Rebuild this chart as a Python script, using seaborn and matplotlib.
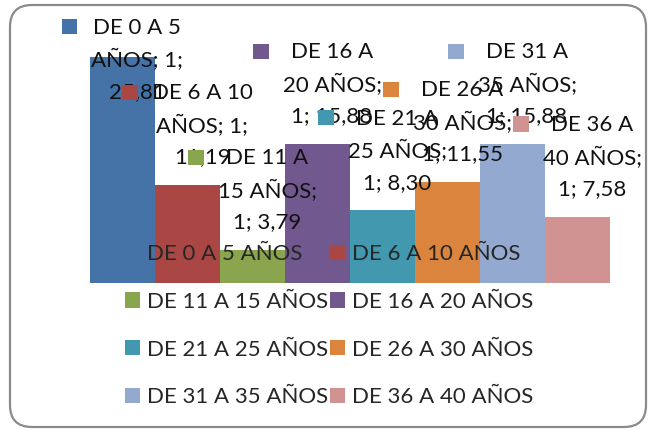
import textwrap
import matplotlib
matplotlib.use("Agg")
import matplotlib.pyplot as plt
import seaborn as sns
from matplotlib.patches import Patch, Rectangle, FancyBboxPatch
from matplotlib.offsetbox import TextArea, DrawingArea, HPacker, AnnotationBbox
from matplotlib.transforms import IdentityTransform

# data
groups = ["DE 0 A 5 AÑOS", "DE 6 A 10 AÑOS", "DE 11 A 15 AÑOS", "DE 16 A 20 AÑOS",
          "DE 21 A 25 AÑOS", "DE 26 A 30 AÑOS", "DE 31 A 35 AÑOS", "DE 36 A 40 AÑOS"]
values = [25.81, 11.19, 3.79, 15.88, 8.30, 11.55, 15.88, 7.58]
category = "1"
colors = ["#4572A7", "#AA4643", "#89A54E", "#71588F",
          "#4198AF", "#DB843D", "#93A9CF", "#D19392"]

sns.set_style("white")
plt.rcParams["font.family"] = ["Lato", "DejaVu Sans"]
fs = 16

fig = plt.figure(figsize=(6.49, 4.29), dpi=100)
ax = fig.add_axes([90 / 649, (429 - 283) / 429, 520 / 649, 262.8 / 429])

sns.barplot(x=groups, y=values, hue=groups, palette=colors, width=1.0,
            saturation=1, legend=False, ax=ax, edgecolor="none")
ax.set_xlim(-0.5, 7.5)
ax.set_ylim(0, 30)
ax.axis("off")

# data labels with legend key, wrapped like the original
for i, (g, v, c) in enumerate(zip(groups, values, colors)):
    txt = textwrap.fill(f"{g}; {category}; {v:.2f}".replace(".", ","), width=9)
    da = DrawingArea(11, 11, 0, 0)
    da.add_artist(Rectangle((0, -1), 11, 11, fc=c, ec="none"))
    ta = TextArea(txt, textprops=dict(fontsize=fs, multialignment="center",
                                      linespacing=1.65, color="#111111"))
    box = HPacker(children=[da, ta], align="top", pad=0, sep=10)
    top = min(v + 11.6, 30.3)
    ab = AnnotationBbox(box, (i, top), xycoords="data", box_alignment=(0.5, 1),
                        frameon=False, pad=0, annotation_clip=False)
    ax.add_artist(ab)

# legend, row-wise order in 2 columns
handles = [Patch(facecolor=c, edgecolor="none") for c in colors]
order = [0, 2, 4, 6, 1, 3, 5, 7]
fig.legend([handles[k] for k in order], [groups[k] for k in order], ncol=2,
           loc="upper left", bbox_to_anchor=(125 / 649, 1 - 244 / 429),
           frameon=False, borderpad=0, borderaxespad=0,
           handlelength=0.68, handleheight=0.68, handletextpad=0.3,
           columnspacing=0.1, labelspacing=1.25, fontsize=fs)

# rounded chart border
border = FancyBboxPatch((10, 2), 636, 422, boxstyle="round,pad=0,rounding_size=22",
                        fc="none", ec="#8a8a8a", lw=1.6, transform=IdentityTransform())
fig.add_artist(border)

plt.savefig("out.png", dpi=100)
